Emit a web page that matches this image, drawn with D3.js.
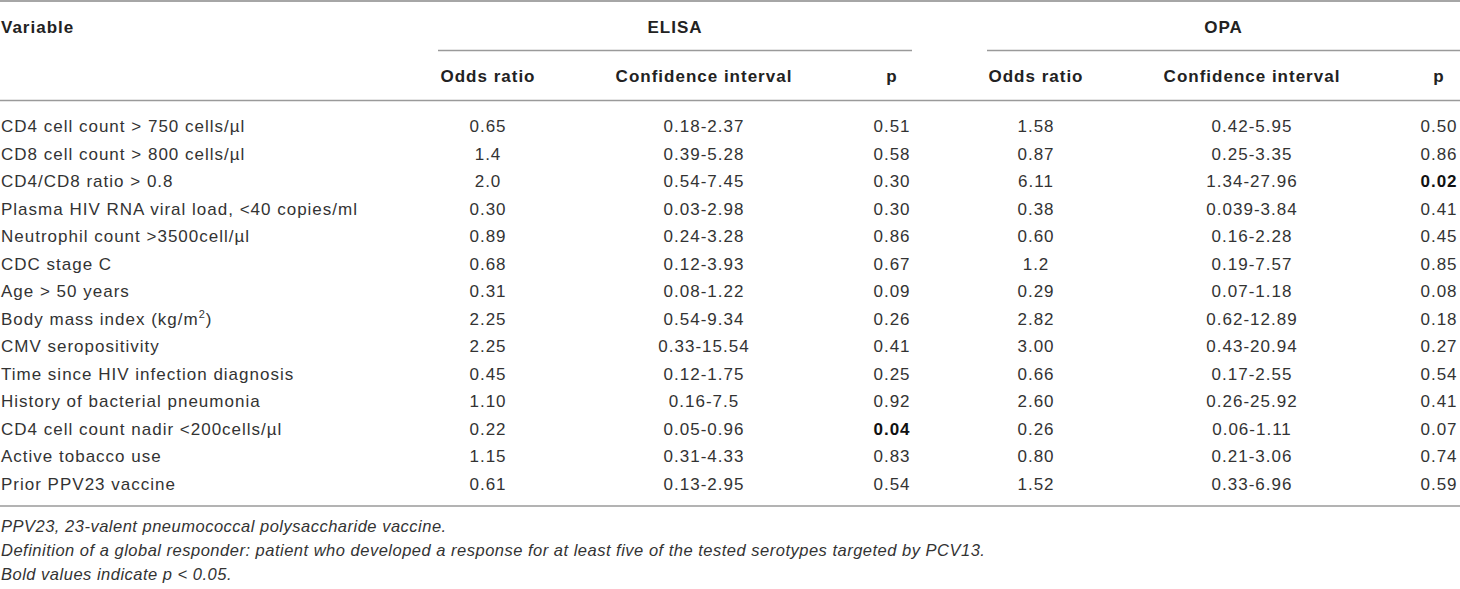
<!DOCTYPE html>
<html><head><meta charset="utf-8">
<script src="https://cdn.jsdelivr.net/npm/d3@7"></script>
<style>
html,body{margin:0;padding:0;background:#fff;}
svg{display:block;}
text{font-family:"Liberation Sans",Arial,sans-serif;font-size:17px;letter-spacing:1px;}
</style></head>
<body>
<svg id="chart" width="1460" height="589"></svg>
<script>
// ---- data ----
const variables = [
  "CD4 cell count > 750 cells/µl",
  "CD8 cell count > 800 cells/µl",
  "CD4/CD8 ratio > 0.8",
  "Plasma HIV RNA viral load, <40 copies/ml",
  "Neutrophil count >3500cell/µl",
  "CDC stage C",
  "Age > 50 years",
  "Body mass index (kg/m^2)",
  "CMV seropositivity",
  "Time since HIV infection diagnosis",
  "History of bacterial pneumonia",
  "CD4 cell count nadir <200cells/µl",
  "Active tobacco use",
  "Prior PPV23 vaccine"
];
const elisaOR = ["0.65","1.4","2.0","0.30","0.89","0.68","0.31","2.25","2.25","0.45","1.10","0.22","1.15","0.61"];
const elisaCI = ["0.18-2.37","0.39-5.28","0.54-7.45","0.03-2.98","0.24-3.28","0.12-3.93","0.08-1.22","0.54-9.34","0.33-15.54","0.12-1.75","0.16-7.5","0.05-0.96","0.31-4.33","0.13-2.95"];
const elisaP  = ["0.51","0.58","0.30","0.30","0.86","0.67","0.09","0.26","0.41","0.25","0.92","0.04","0.83","0.54"];
const opaOR   = ["1.58","0.87","6.11","0.38","0.60","1.2","0.29","2.82","3.00","0.66","2.60","0.26","0.80","1.52"];
const opaCI   = ["0.42-5.95","0.25-3.35","1.34-27.96","0.039-3.84","0.16-2.28","0.19-7.57","0.07-1.18","0.62-12.89","0.43-20.94","0.17-2.55","0.26-25.92","0.06-1.11","0.21-3.06","0.33-6.96"];
const opaP    = ["0.50","0.86","0.02","0.41","0.45","0.85","0.08","0.18","0.27","0.54","0.41","0.07","0.74","0.59"];
const groups = ["ELISA","OPA"];
const subHeaders = ["Odds ratio","Confidence interval","p"];
const footnotes = [
  "PPV23, 23-valent pneumococcal polysaccharide vaccine.",
  "Definition of a global responder: patient who developed a response for at least five of the tested serotypes targeted by PCV13.",
  "Bold values indicate p < 0.05."
];

// ---- layout ----
const svg = d3.select("#chart");
const textColor = "#333";
const lineColor = "#9a9a9a";

const colKeys = ["eOR","eCI","eP","oOR","oCI","oP"];
const x = d3.scaleOrdinal().domain(colKeys).range([488, 704, 892, 1036, 1252, 1439]);
const groupSpan = d3.scaleOrdinal().domain(groups).range([[438, 912],[987, 1460]]);

const y = d3.scaleLinear().domain([0, variables.length - 1]).range([132, 489.5]);

// lines
svg.append("line").attr("x1",0).attr("x2",1460).attr("y1",1).attr("y2",1)
  .attr("stroke","#888").attr("stroke-width",1.6);
groups.forEach(g => {
  const [a,b] = groupSpan(g);
  svg.append("line").attr("x1",a).attr("x2",b).attr("y1",50.5).attr("y2",50.5)
    .attr("stroke",lineColor).attr("stroke-width",1.3);
  svg.append("text").attr("x",(a+b)/2).attr("y",32.5).attr("text-anchor","middle")
    .attr("font-weight","bold").attr("fill","#222").text(g);
});
svg.append("line").attr("x1",0).attr("x2",1460).attr("y1",100.5).attr("y2",100.5)
  .attr("stroke",lineColor).attr("stroke-width",1.3);
svg.append("line").attr("x1",0).attr("x2",1460).attr("y1",506).attr("y2",506)
  .attr("stroke",lineColor).attr("stroke-width",1.3);

// headers
svg.append("text").attr("x",1).attr("y",32.5).attr("font-weight","bold").attr("fill","#222").text("Variable");
colKeys.forEach((k,i) => {
  svg.append("text").attr("x",x(k)).attr("y",81.5).attr("text-anchor","middle")
    .attr("font-weight","bold").attr("fill","#222").text(subHeaders[i % 3]);
});

// rows
const rows = variables.map((v,i) => ({v, i,
  cells: [elisaOR[i], elisaCI[i], elisaP[i], opaOR[i], opaCI[i], opaP[i]]}));

const rowG = svg.selectAll("g.row").data(rows).join("g").attr("class","row")
  .attr("transform", d => `translate(0,${y(d.i)})`);

rowG.each(function(d){
  const g = d3.select(this);
  const t = g.append("text").attr("x",1).attr("y",0).attr("fill",textColor);
  if (d.v.includes("^2")) {
    const parts = d.v.split("^2");
    t.append("tspan").text(parts[0]);
    t.append("tspan").attr("dy",-7).attr("font-size",11).text("2");
    t.append("tspan").attr("dy",7).text(parts[1]);
  } else t.text(d.v);
  d.cells.forEach((c,j) => {
    const isP = (j % 3) === 2;
    const bold = isP && parseFloat(c) < 0.05;
    g.append("text").attr("x", x(colKeys[j])).attr("y",0).attr("text-anchor","middle")
      .attr("fill", bold ? "#111" : textColor)
      .attr("font-weight", bold ? "bold" : "normal").text(c);
  });
});

// footnotes
const fy = d3.scaleLinear().domain([0,2]).range([532, 580]);
svg.selectAll("text.fn").data(footnotes).join("text").attr("class","fn")
  .attr("x",1).attr("y",(d,i)=>fy(i)).attr("font-style","italic")
  .attr("fill",textColor).style("font-size","16.5px").style("letter-spacing","0.5px").text(d=>d);
</script>
</body></html>
